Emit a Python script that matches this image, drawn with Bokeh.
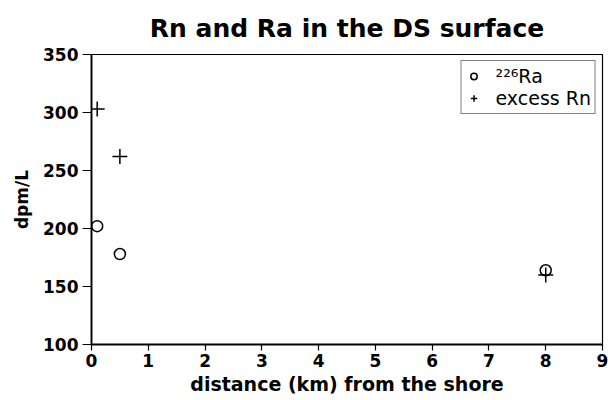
from bokeh.plotting import figure
from bokeh.models import Range1d, FixedTicker, Legend, LegendItem
from bokeh.embed import file_html
from bokeh.resources import INLINE

# Data
ra_distance = [0.1, 0.5, 8.0]
ra_value = [202, 178, 164]
rn_distance = [0.1, 0.5, 8.0]
rn_value = [303, 262, 160]

x_ticks = [0, 1, 2, 3, 4, 5, 6, 7, 8, 9]
y_ticks = [100, 150, 200, 250, 300, 350]

FONT = "DejaVu Sans"

p = figure(width=608, height=400, output_backend="svg", toolbar_location=None,
           x_range=Range1d(0, 9), y_range=Range1d(100, 350),
           min_border_left=91, min_border_right=6, min_border_top=53, min_border_bottom=56)

p.title.text = "Rn and Ra in the DS surface"
p.title.text_font = FONT
p.title.text_font_size = "25px"
p.title.text_font_style = "bold"
p.title.text_color = "black"
p.title.align = "center"
p.title.standoff = 23

p.xgrid.visible = False
p.ygrid.visible = False
p.outline_line_color = "black"
p.outline_line_width = 1.2
p.background_fill_color = "white"
p.border_fill_color = "white"

for ax in (p.xaxis[0], p.yaxis[0]):
    ax.axis_line_color = "black"
    ax.axis_line_width = 1.8
    ax.major_tick_line_color = "black"
    ax.major_tick_line_width = 1.2
    ax.major_tick_in = 0
    ax.minor_tick_line_color = None
    ax.major_label_text_font = FONT
    ax.major_label_text_font_size = "17px"
    ax.major_label_text_font_style = "bold"
    ax.major_label_text_color = "black"
    ax.axis_label_text_font = FONT
    ax.axis_label_text_font_style = "bold"
    ax.axis_label_text_color = "black"

p.xaxis.ticker = FixedTicker(ticks=x_ticks)
p.yaxis.ticker = FixedTicker(ticks=y_ticks)
p.xaxis.major_tick_out = 6
p.yaxis.major_tick_out = 9
p.xaxis.major_label_standoff = 3
p.yaxis.major_label_standoff = 4
p.xaxis.axis_label = "distance (km) from the shore"
p.xaxis.axis_label_text_font_size = "19px"
p.xaxis.axis_label_standoff = 3
p.yaxis.axis_label = "dpm/L"
p.yaxis.axis_label_text_font_size = "17px"
p.yaxis.axis_label_standoff = 8

r_ra = p.scatter(ra_distance, ra_value, marker="circle", size=11,
                 fill_color=None, line_color="black", line_width=1.5)
r_rn = p.scatter(rn_distance, rn_value, marker="cross", size=15,
                 line_color="black", line_width=1.5)

legend = Legend(items=[LegendItem(label="\u00b2\u00b2\u2076Ra", renderers=[r_ra]),
                       LegendItem(label="excess Rn", renderers=[r_rn])],
                location="top_right")
legend.label_text_font = FONT
legend.label_text_font_size = "19px"
legend.label_text_color = "black"
legend.border_line_color = "black"
legend.border_line_width = 1.5
legend.background_fill_alpha = 1
legend.margin = 6
legend.padding = 4
legend.spacing = 0
legend.glyph_width = 16
legend.glyph_height = 22
legend.label_standoff = 14
legend.label_height = 22
p.add_layout(legend)

open("out.html", "w").write(file_html(p, INLINE))
